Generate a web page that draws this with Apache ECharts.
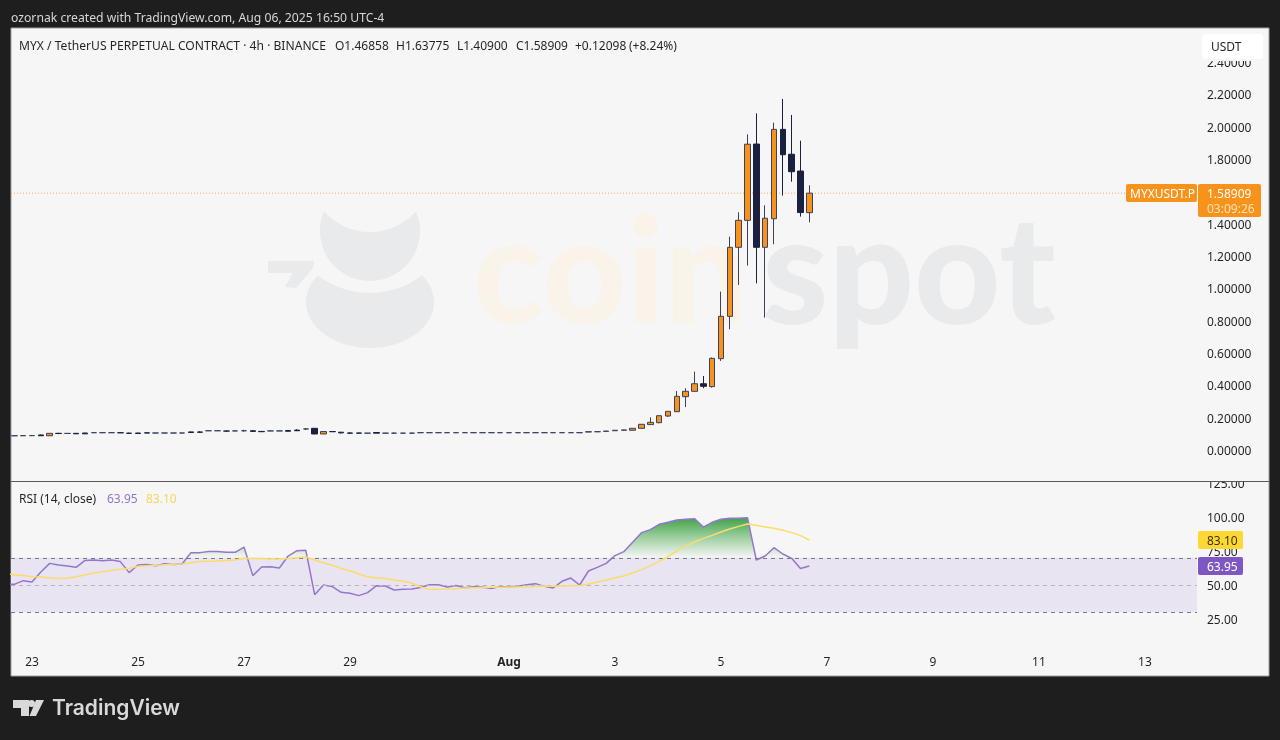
<!DOCTYPE html>
<html>
<head>
<meta charset="utf-8">
<title>MYXUSDT.P</title>
<script src="https://cdn.jsdelivr.net/npm/echarts@6/dist/echarts.min.js"></script>
<style>
  html, body { margin: 0; padding: 0; background: #1e1e1e; }
  #chart { width: 1280px; height: 740px; }
</style>
</head>
<body>
<div id="chart"></div>
<script>
// Bars are 4h, index 0 is Jul 23 00:00
const firstBar = -3;

const barOpens = [
  .088, .088, .088, .089, .093, .088, .103, .102, .103, .105,
  .107, .107, .107, .107, .104, .105, .106, .105, .105, .105,
  .105, .112, .111, .119, .119, .117, .118, .119, .119, .115,
  .118, .118, .120, .123, .130, .134, .099, .114, .110, .105,
  .105, .104, .108, .104, .104, .104, .104, .107, .107, .107,
  .107, .107, .107, .107, .107, .107, .107, .107, .107, .107,
  .107, .107, .107, .107, .107, .107, .111, .113, .115, .119,
  .122, .122, .134, .157, .169, .210, .237, .330, .363, .410,
  .392, .565, .827, 1.254, 1.421, 1.893, 1.254, 1.431, 1.984, 1.830,
  1.726, 1.46858
];
const barCloses = [
  .088, .088, .089, .089, .088, .103, .102, .103, .100, .100,
  .107, .107, .107, .106, .103, .102, .105, .105, .105, .105,
  .105, .108, .110, .119, .119, .117, .118, .119, .115, .113,
  .118, .118, .116, .119, .130, .099, .114, .113, .106, .104,
  .104, .104, .104, .104, .104, .104, .104, .107, .107, .107,
  .107, .107, .107, .107, .107, .107, .107, .107, .107, .107,
  .107, .107, .107, .107, .107, .107, .113, .113, .117, .122,
  .124, .134, .159, .171, .212, .239, .332, .363, .410, .394,
  .567, .827, 1.254, 1.421, 1.892, 1.254, 1.434, 1.984, 1.827, 1.722,
  1.469, 1.58909
];
const barLows = [
  .087, .087, .087, .087, .087, .087, .098, .101, .099, .099,
  .106, .106, .106, .105, .099, .101, .104, .104, .104, .104,
  .104, .107, .105, .118, .118, .113, .117, .113, .114, .112,
  .117, .117, .115, .118, .124, .098, .098, .112, .102, .100,
  .103, .103, .103, .103, .101, .102, .101, .106, .106, .106,
  .106, .106, .106, .106, .106, .106, .106, .104, .104, .106,
  .106, .106, .106, .106, .106, .106, .112, .112, .114, .118,
  .120, .120, .132, .155, .165, .205, .235, .266, .360, .382,
  .386, .551, .747, 1.021, 1.141, 1.031, .819, 1.273, 1.574, 1.660,
  1.444, 1.409
];
const barHighs = [
  .089, .089, .090, .093, .095, .104, .106, .104, .104, .106,
  .108, .108, .108, .108, .107, .106, .107, .106, .106, .106,
  .106, .113, .116, .120, .120, .121, .119, .125, .124, .116,
  .119, .119, .121, .128, .136, .135, .116, .116, .111, .108,
  .106, .105, .110, .106, .108, .106, .108, .108, .108, .108,
  .108, .108, .108, .108, .108, .108, .108, .110, .110, .108,
  .108, .108, .108, .108, .108, .108, .114, .114, .118, .123,
  .125, .135, .160, .202, .214, .240, .365, .382, .485, .458,
  .573, .980, 1.320, 1.471, 1.953, 2.083, 1.514, 2.025, 2.172, 2.073,
  1.914, 1.63775
];

const rsiValues = [
  50.5, 50.5, 53.2, 52.2, 59.6, 65.9, 64.7, 64.0, 63.0, 68.1,
  68.4, 67.9, 68.4, 67.2, 59.1, 64.7, 65.0, 64.2, 65.7, 65.0,
  65.4, 73.8, 73.8, 74.7, 74.7, 74.0, 74.0, 77.9, 56.9, 63.2,
  63.5, 62.5, 71.3, 75.2, 75.5, 42.9, 50.0, 48.8, 44.6, 43.9,
  42.2, 44.4, 49.5, 49.3, 46.3, 46.8, 47.0, 48.2, 50.2, 50.2,
  48.5, 49.7, 48.0, 48.8, 48.3, 47.5, 48.8, 48.8, 49.0, 50.2,
  51.0, 49.0, 47.8, 52.7, 55.1, 50.0, 60.3, 63.0, 65.9, 71.6,
  74.5, 81.4, 88.5, 90.7, 94.6, 96.1, 97.8, 98.3, 98.8, 92.6,
  96.1, 98.3, 99.0, 99.0, 99.5, 68.4, 71.3, 77.4, 72.8, 69.6,
  62.2, 63.95
];
const rsiMaValues = [
  58.1, 57.6, 56.9, 56.1, 55.9, 55.4, 54.7, 54.9, 56.1, 57.3,
  58.8, 59.8, 60.8, 61.5, 62.2, 63.7, 64.2, 64.5, 64.9, 65.2,
  65.4, 66.4, 67.2, 67.4, 67.6, 68.1, 68.4, 69.6, 69.5, 69.4,
  69.1, 69.1, 69.4, 70.1, 70.6, 68.4, 66.4, 64.5, 62.2, 60.5,
  58.1, 56.1, 55.4, 54.7, 53.7, 52.7, 51.5, 48.5, 46.8, 46.8,
  47.0, 47.3, 47.8, 48.0, 48.0, 48.3, 48.3, 48.5, 48.5, 48.8,
  49.0, 49.0, 49.0, 49.3, 49.5, 49.7, 50.7, 52.2, 53.7, 55.4,
  56.6, 58.8, 61.3, 64.2, 67.4, 71.0, 75.0, 78.7, 81.6, 84.3,
  86.5, 89.0, 91.2, 93.1, 94.8, 93.9, 92.6, 91.7, 90.2, 88.5,
  86.3, 83.1
];

const xTickValues = [0, 12, 24, 36, 54, 66, 78, 90, 102, 114, 126];
const xTickLabels = ['23', '25', '27', '29', 'Aug', '3', '5', '7', '9', '11', '13'];
const lastPrice = 1.58909;

const uiFont = '"Noto Sans"';
const panelColor = '#f6f6f6';
const textColor = '#1f2328';
const orange = '#f7931a';
const navy = '#1a2040';
const purple = '#7e57c2';
const yellow = '#fdd835';

// Small helpers for the text and boxes around the chart
// Noto sits a little high when centred, hence the 1.5 on y
function label(text, x, y, fill, size) {
  return {
    type: 'text', x: x, y: y + 1.5, z: 30, silent: true,
    style: { text: text, fill: fill, font: (size || 12) + 'px ' + uiFont, verticalAlign: 'middle', align: 'left' }
  };
}

function box(x, y, width, height, fill, z, r) {
  return {
    type: 'rect', z: z, silent: true,
    shape: { x: x, y: y, width: width, height: height, r: r || 0 },
    style: { fill: fill }
  };
}

function disc(cx, cy, rx, ry, fill) {
  return {
    type: 'circle', x: cx, y: cy, scaleX: rx, scaleY: ry, z: -5, silent: true,
    shape: { cx: 0, cy: 0, r: 1 }, style: { fill: fill }
  };
}

function shape(points, fill, z) {
  return { type: 'polygon', z: z, silent: true, shape: { points: points }, style: { fill: fill } };
}

function logoWord(text, x, y, size, fill) {
  return {
    type: 'text', x: x, y: y, z: -5, silent: true,
    style: { text: text, fill: fill, font: '900 ' + size + 'px Lato', verticalAlign: 'top', align: 'left' }
  };
}

const logoGrey = '#e9eaec';
const watermark = [
  disc(370, 302, 64, 46, logoGrey),
  disc(370, 207, 86, 86, panelColor),
  disc(370, 231, 50, 50, logoGrey),
  disc(370, 170, 62, 62, panelColor),
  shape([[268, 261], [314, 261], [313, 268], [296, 288], [285, 287], [293, 273], [268, 273]], logoGrey, -5),
  logoWord('coin', 473, 203, 146, '#f9f3ea'),
  logoWord('spot', 762, 201, 150, logoGrey)
];

const chrome = [
  {
    type: 'rect', z: -10, silent: true,
    shape: { x: 11, y: 28, width: 1258, height: 648 },
    style: { fill: panelColor, stroke: '#a0a0a0', lineWidth: 1 }
  },
  // pane separator, it also cuts the top RSI tick in half
  box(1198, 470, 70, 11, panelColor, 10),
  box(11, 481, 1258, 1, '#55585c', 11),
  // the USDT button sits over the 2.40000 tick
  box(1198, 34, 70, 27, panelColor, 10),
  box(1202, 34, 61, 25, '#ffffff', 11, 4),
  label('USDT', 1211, 46, textColor, 12),

  label('ozornak created with TradingView.com, Aug 06, 2025 16:50 UTC-4', 11, 17, '#d8d8d8', 12.2),
  label('MYX / TetherUS PERPETUAL CONTRACT · 4h · BINANCE', 19, 45, textColor, 12.1),
  label('O1.46858', 335, 45, textColor, 12),
  label('H1.63775', 396, 45, textColor, 12),
  label('L1.40900', 457, 45, textColor, 12),
  label('C1.58909', 516, 45, textColor, 12),
  label('+0.12098', 575, 45, textColor, 12),
  label('(+8.24%)', 629, 45, textColor, 12),

  label('RSI (14, close)', 19, 498, textColor, 12),
  label(rsiValues[rsiValues.length - 1].toFixed(2), 107, 498, '#9575cd', 12),
  label(rsiMaValues[rsiMaValues.length - 1].toFixed(2), 146, 498, '#f5d65c', 12),

  // price tags on the axes
  box(1126, 184, 71, 18, orange, 20, 2),
  label('MYXUSDT.P', 1130, 193, '#ffffff', 12),
  box(1198, 184, 63, 33, orange, 20, 2),
  label(lastPrice.toFixed(5), 1207, 193, '#ffffff', 12),
  label('03:09:26', 1207, 208, '#fde3bd', 12),
  box(1198, 531, 45, 18, yellow, 20, 2),
  label(rsiMaValues[rsiMaValues.length - 1].toFixed(2), 1207, 540, '#3a3000', 12),
  box(1198, 557, 45, 18, purple, 20, 2),
  label(rsiValues[rsiValues.length - 1].toFixed(2), 1207, 566, '#ffffff', 12),

  // TradingView footer
  shape([[13, 700], [29, 700], [29, 716], [21, 716], [21, 708], [13, 708]], '#d9d9d9', 30),
  { type: 'circle', z: 30, silent: true, shape: { cx: 31.5, cy: 703.5, r: 3.5 }, style: { fill: '#d9d9d9' } },
  shape([[36, 700], [44, 700], [36, 716], [29.5, 716]], '#d9d9d9', 30),
  {
    type: 'text', x: 52, y: 709, z: 30, silent: true,
    style: { text: 'TradingView', fill: '#d9d9d9', font: '600 21px Inter', verticalAlign: 'middle', align: 'left' }
  }
];

const barIndex = barCloses.map((_, i) => firstBar + i);
const candleData = barCloses.map((c, i) => [barIndex[i], barOpens[i], c, barLows[i], barHighs[i]]);
const rsiData = rsiValues.map((v, i) => [barIndex[i], v]);
const rsiMaData = rsiMaValues.map((v, i) => [barIndex[i], v]);

const xMin = -2.377;
const xMax = 131.89;
const hiddenAxis = { show: false };

// Tick text goes through a rich style so it can sit 1.5px lower, same reason as label()
const tickRich = { t: { padding: [3, 0, 0, 0], color: textColor, fontFamily: uiFont, fontSize: 12 } };

const chart = echarts.init(document.getElementById('chart'));

chart.setOption({
  animation: false,
  backgroundColor: '#1e1e1e',
  graphic: { elements: chrome.concat(watermark) },
  grid: [
    { left: 11, right: 83, top: 29.8, height: 452.5 },
    { left: 11, right: 83, top: 483, height: 170 }
  ],
  xAxis: [
    { type: 'value', gridIndex: 0, min: xMin, max: xMax, show: false, splitLine: hiddenAxis },
    {
      type: 'value', gridIndex: 1, min: xMin, max: xMax,
      splitLine: hiddenAxis, axisLine: hiddenAxis, axisTick: hiddenAxis,
      axisLabel: {
        customValues: xTickValues,
        margin: 4,
        color: textColor,
        fontFamily: uiFont,
        fontSize: 12,
        formatter: value => {
          const text = xTickLabels[xTickValues.indexOf(value)];
          return text === 'Aug' ? '{b|Aug}' : text;
        },
        rich: { b: { fontWeight: 'bold', fontFamily: uiFont, fontSize: 12, color: textColor } }
      }
    }
  ],
  yAxis: [
    {
      type: 'value', gridIndex: 0, position: 'right', min: -0.2, max: 2.6, interval: 0.2,
      splitLine: hiddenAxis, axisLine: hiddenAxis, axisTick: hiddenAxis,
      axisLabel: {
        margin: 10, rich: tickRich,
        formatter: value => (value < -0.01 || value > 2.41 ? '' : '{t|' + Math.abs(value).toFixed(5) + '}')
      }
    },
    {
      type: 'value', gridIndex: 1, position: 'right', min: 0, max: 125, interval: 25,
      splitLine: hiddenAxis, axisLine: hiddenAxis, axisTick: hiddenAxis,
      axisLabel: {
        margin: 10, rich: tickRich,
        formatter: value => (value === 0 ? '' : '{t|' + value.toFixed(2) + '}')
      }
    }
  ],
  series: [
    {
      name: 'Last price',
      type: 'line',
      xAxisIndex: 0,
      yAxisIndex: 0,
      z: 1,
      showSymbol: false,
      data: [[xMin, lastPrice], [xMax, lastPrice]],
      lineStyle: { color: '#f6a658', type: [1, 2], width: 1 }
    },
    {
      name: 'MYXUSDT.P',
      type: 'candlestick',
      xAxisIndex: 0,
      yAxisIndex: 0,
      barWidth: 6,
      encode: { x: 0, y: [1, 2, 3, 4] },
      data: candleData,
      itemStyle: {
        color: orange,
        color0: navy,
        borderColor: '#3c4160',
        borderColor0: navy,
        borderWidth: 1
      }
    },
    {
      name: 'RSI',
      type: 'line',
      xAxisIndex: 1,
      yAxisIndex: 1,
      z: 4,
      showSymbol: false,
      data: rsiData,
      lineStyle: { color: '#9575cd', width: 1.5 },
      // pixel gradient that turns clear at the 70 line, so only the part above it shows
      areaStyle: {
        origin: 70,
        opacity: 1,
        color: {
          type: 'linear', global: true, x: 0, y: 517, x2: 0, y2: 558,
          colorStops: [
            { offset: 0, color: 'rgba(60,160,70,1)' },
            { offset: 1, color: 'rgba(76,175,80,0)' }
          ]
        }
      },
      markArea: {
        silent: true,
        itemStyle: { color: '#e8e4f2' },
        data: [[{ yAxis: 30 }, { yAxis: 70 }]]
      },
      markLine: {
        silent: true,
        symbol: 'none',
        label: { show: false },
        data: [
          { yAxis: 70, lineStyle: { color: '#787b86', type: [4, 4], width: 1 } },
          { yAxis: 50, lineStyle: { color: '#b4b4ba', type: [4, 4], width: 1 } },
          { yAxis: 30, lineStyle: { color: '#787b86', type: [4, 4], width: 1 } }
        ]
      }
    },
    {
      name: 'RSI MA',
      type: 'line',
      xAxisIndex: 1,
      yAxisIndex: 1,
      z: 5,
      showSymbol: false,
      data: rsiMaData,
      lineStyle: { color: '#fbdc6a', width: 1.5 }
    }
  ]
});
</script>
</body>
</html>
